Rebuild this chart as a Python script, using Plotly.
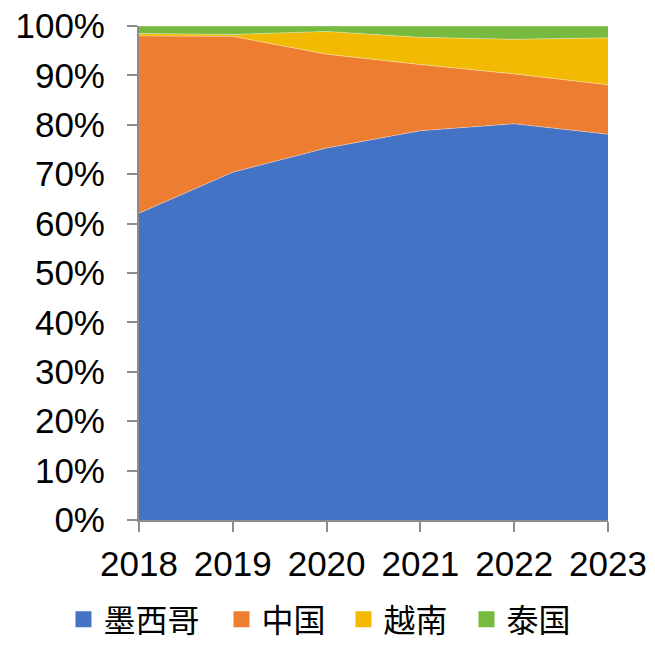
import plotly.graph_objects as go

# Export share by origin country, 2018-2023 (percent of total)
years = [2018, 2019, 2020, 2021, 2022, 2023]
mexico = [62.1, 70.4, 75.3, 78.8, 80.2, 78.1]
china = [35.9, 27.5, 19.0, 13.4, 10.1, 10.0]
vietnam = [0.5, 0.4, 4.6, 5.5, 7.0, 9.5]
thailand = [1.5, 1.7, 1.1, 2.3, 2.7, 2.4]

names = ["墨西哥", "中国", "越南", "泰国"]
colors = ["#4472C4", "#ED7D31", "#F2BA02", "#76BB40"]
series = [mexico, china, vietnam, thailand]

# one single-entry legend per country, laid out in a row under the axis
legend_ids = ["legend", "legend2", "legend3", "legend4"]
legend_x = [0.0969, 0.3382, 0.5244, 0.7122]

axis_grey = "#8C8C8C"
tick_font = dict(family="Liberation Sans, Arial, sans-serif", size=35, color="#000000")
legend_font = dict(family="Noto Sans CJK SC", size=32, color="#000000")

fig = go.Figure()

for name, vals, col in zip(names, series, colors):
    fig.add_trace(go.Scatter(
        x=years, y=vals, name=name, mode="lines",
        stackgroup="share", fillcolor=col,
        line=dict(width=0.8, color="rgba(255,255,255,0.45)"),
        showlegend=False, hoverinfo="skip",
    ))

# Square legend keys
for name, col, lid in zip(names, colors, legend_ids):
    fig.add_trace(go.Scatter(
        x=[None], y=[None], name=name, mode="markers",
        marker=dict(symbol="square", size=17, color=col),
        legend=lid, showlegend=True,
    ))

legend_common = dict(
    orientation="h", xanchor="left", y=0.0, yanchor="bottom",
    xref="container", yref="container",
    font=legend_font, itemsizing="trace", bgcolor="rgba(0,0,0,0)",
)

fig.update_layout(
    width=655, height=647,
    margin=dict(l=139, r=47, t=26, b=127),
    paper_bgcolor="white", plot_bgcolor="white",
    showlegend=True,
    xaxis=dict(
        range=[2018, 2023], tickmode="array", tickvals=years,
        ticktext=[str(y) for y in years], tickangle=0, automargin=False,
        showgrid=False, zeroline=False,
        showline=True, linecolor=axis_grey, linewidth=2,
        ticks="outside", ticklen=10, tickwidth=2, tickcolor=axis_grey,
        tickfont=tick_font, ticklabelstandoff=2,
    ),
    yaxis=dict(
        range=[0, 100], tickmode="linear", tick0=0, dtick=10, ticksuffix="%",
        automargin=False,
        showgrid=False, zeroline=False,
        showline=True, linecolor=axis_grey, linewidth=2,
        ticks="outside", ticklen=10, tickwidth=2, tickcolor=axis_grey,
        tickfont=tick_font, ticklabelstandoff=15,
    ),
)

for lid, lx in zip(legend_ids, legend_x):
    fig.update_layout({lid: dict(legend_common, x=lx)})

fig.write_html("out.html")
